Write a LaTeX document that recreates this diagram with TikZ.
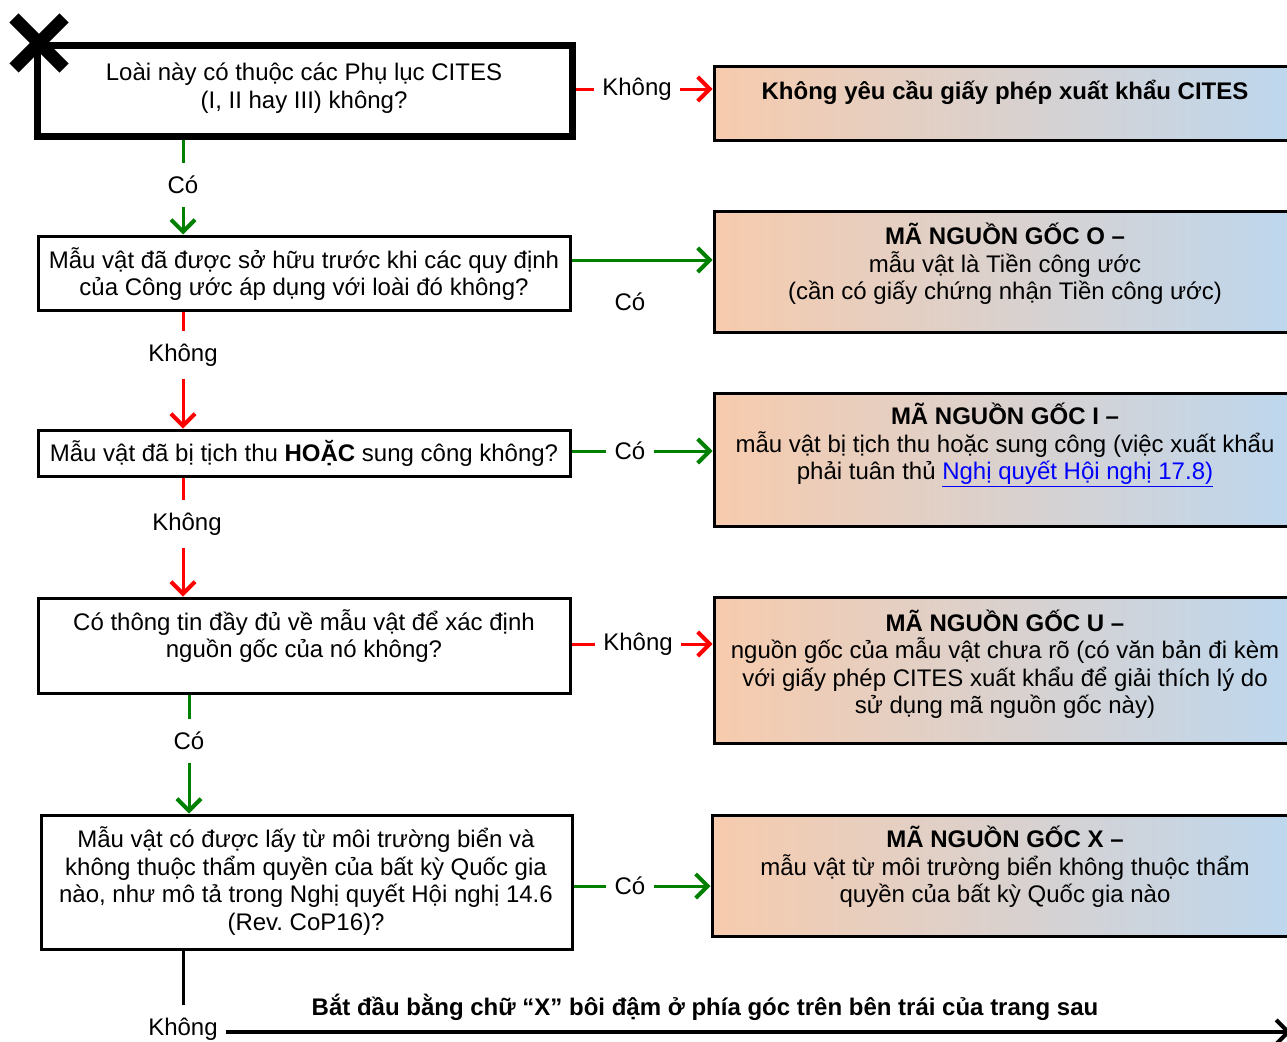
\documentclass[tikz,border=0pt]{standalone}
\usepackage{fontspec}
\setmainfont{Liberation Sans}
\usetikzlibrary{arrows.meta,calc}
\definecolor{gr}{RGB}{0,128,0}
\definecolor{rd}{RGB}{255,0,0}
\definecolor{lorange}{RGB}{247,203,173}
\definecolor{lblue}{RGB}{189,215,238}
\definecolor{linkblue}{RGB}{0,0,255}
\frenchspacing
\begin{document}
\begin{tikzpicture}[x=1pt,y=-1pt,
  font=\fontsize{24}{27.5}\selectfont,
  qbox/.style={draw, line width=3pt, fill=white, inner sep=0pt},
  obox/.style={draw, line width=3pt, left color=lorange, right color=lblue, inner sep=0pt},
  txt/.style={align=center, inner sep=0pt},
  lab/.style={inner xsep=8pt, inner ysep=13pt},
  rline/.style={draw=rd, line width=3pt},
  gline/.style={draw=gr, line width=3pt},
  rarrow/.style={rline, -{Straight Barb[length=12pt,width=24pt,line width=4pt]}},
  garrow/.style={gline, -{Straight Barb[length=12pt,width=24pt,line width=4pt]}},
  barrow/.style={draw=black, line width=4pt, -{Straight Barb[length=12pt,width=24pt,line width=4pt]}}
]
\useasboundingbox (0,0) rectangle (1287,1041);

% left question boxes
\node[qbox, line width=7pt, minimum width=535, minimum height=90] (b1) at (304.5,91) {};
\node[qbox, minimum width=532, minimum height=74] (b2) at (304,273) {};
\node[qbox, minimum width=532, minimum height=46] (b3) at (304,453) {};
\node[qbox, minimum width=532, minimum height=95] (b4) at (304,645.5) {};
\node[qbox, minimum width=531, minimum height=134] (b5) at (306.5,882) {};

\node[txt] (t1) at (304,88) {Loài này có thuộc các Phụ lục CITES\\(I, II hay III) không?};
\node[txt] (t2) at (304,274) {Mẫu vật đã được sở hữu trước khi các quy định\\của Công ước áp dụng với loài đó không?};
\node[txt] (t3) at (304,453) {Mẫu vật đã bị tịch thu \textbf{HOẶC} sung công không?};
\node[txt] (t4) at (304,636) {Có thông tin đầy đủ về mẫu vật để xác định\\nguồn gốc của nó không?};
\node[txt] (t5) at (306,881) {Mẫu vật có được lấy từ môi trường biển và\\không thuộc thẩm quyền của bất kỳ Quốc gia\\nào, như mô tả trong Nghị quyết Hội nghị 14.6\\(Rev. CoP16)?};

% right outcome boxes
\node[obox, minimum width=582, minimum height=73] (r1) at (1005,103.5) {};
\node[obox, minimum width=582, minimum height=121] (r2) at (1005,271.5) {};
\node[obox, minimum width=582, minimum height=133] (r3) at (1005,459.5) {};
\node[obox, minimum width=582, minimum height=146] (r4) at (1005,670) {};
\node[obox, minimum width=584, minimum height=121] (r5) at (1004,875.5) {};

\node[txt, font=\fontsize{24}{27.5}\selectfont\bfseries] (s1) at (1005,92) {Không yêu cầu giấy phép xuất khẩu CITES};
\node[txt] (s2) at (1005,264) {\textbf{MÃ NGUỒN GỐC O –}\\mẫu vật là Tiền công ước\\(cần có giấy chứng nhận Tiền công ước)};
\node[txt] (s3) at (1005,445) {\textbf{MÃ NGUỒN GỐC I –}\\mẫu vật bị tịch thu hoặc sung công (việc xuất khẩu\\phải tuân thủ \textcolor{linkblue}{\underline{Nghị quyết Hội nghị 17.8)}}};
\node[txt] (s4) at (1005,664) {\textbf{MÃ NGUỒN GỐC U –}\\nguồn gốc của mẫu vật chưa rõ (có văn bản đi kèm\\với giấy phép CITES xuất khẩu để giải thích lý do\\sử dụng mã nguồn gốc này)};
\node[txt] (s5) at (1005,867) {\textbf{MÃ NGUỒN GỐC X –}\\mẫu vật từ môi trường biển không thuộc thẩm\\quyền của bất kỳ Quốc gia nào};

% X mark
\draw[line width=13pt] (14,18) -- (64,68);
\draw[line width=13pt] (14,68) -- (64,18);

% connector labels
\node[lab] (k1) at (637,89) {Không};
\node[lab] (c1) at (183,185) {Có};
\node[lab] (c2) at (630,302) {Có};
\node[lab] (k2) at (183,355) {Không};
\node[lab] (c3) at (630,451) {Có};
\node[lab] (k3) at (187,524) {Không};
\node[lab] (k4) at (638,644) {Không};
\node[lab] (c4) at (189,741) {Có};
\node[lab] (c5) at (630,886) {Có};
\node[lab] (k5) at (183,1029) {Không};
\node[txt, font=\fontsize{24}{27.5}\selectfont\bfseries] (note) at (705,1007) {Bắt đầu bằng chữ “X” bôi đậm ở phía góc trên bên trái của trang sau};

% connectors
\draw[rline] (b1.east |- k1) -- (k1.west);
\draw[rarrow] (k1.east) -- (r1.west |- k1);
\draw[gline] (b1.south -| c1) -- (c1.north);
\draw[garrow] (c1.south) -- (b2.north -| c1);

\draw[garrow] ([yshift=13pt]b2.east) coordinate (a2) -- (a2 -| r2.west);
\draw[rline] (b2.south -| k2) -- (k2.north);
\draw[rarrow] (k2.south) -- (b3.north -| k2);

\draw[gline] (b3.east |- c3) -- (c3.west);
\draw[garrow] (c3.east) -- (r3.west |- c3);
\draw[rline] (b3.south -| 183,0) coordinate (a3) -- (a3 |- k3.north);
\draw[rarrow] (a3 |- k3.south) -- (b4.north -| a3);

\draw[rline] (b4.east |- k4) -- (k4.west);
\draw[rarrow] (k4.east) -- (r4.west |- k4);
\draw[gline] (b4.south -| c4) -- (c4.north);
\draw[garrow] (c4.south) -- (b5.north -| c4);

\draw[gline] (b5.east |- c5) -- (c5.west);
\draw[garrow] (c5.east) -- (r5.west |- c5);
\draw[line width=3pt] (b5.south -| k5) -- (k5.north);
\coordinate (endp) at (1291,1032);
\draw[barrow] ([yshift=-3pt]k5.east) -- (endp);
\end{tikzpicture}
\end{document}
